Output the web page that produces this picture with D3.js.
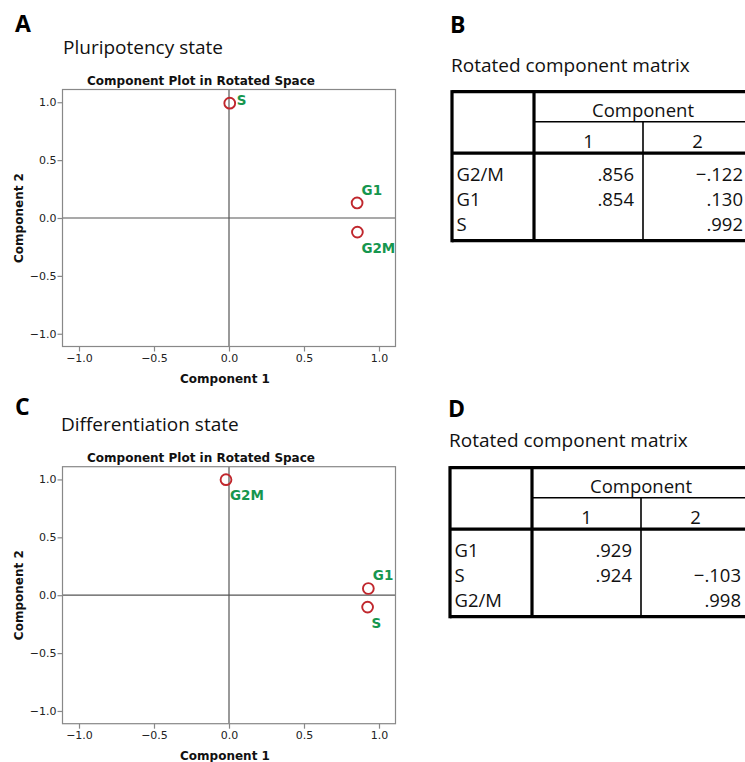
<!DOCTYPE html>
<html><head>
<meta charset="UTF-8">
<title>Rotated component plots</title>
<script src="https://cdnjs.cloudflare.com/ajax/libs/d3/7.8.4/d3.min.js"></script>
<style>
    body { margin: 0; padding: 0; background: #fff; }
    svg { display: block; }
    .panel-letter { font-family: "Open Sans", sans-serif; font-weight: bold; font-size: 23px; }
    .subtitle { font-family: "Open Sans", sans-serif; font-size: 19px; fill: #111; }
    .plot-title, .axis-title { font-family: "DejaVu Sans", sans-serif; font-weight: bold; font-size: 12px; fill: #111; }
    .tick text { font-family: "DejaVu Sans", sans-serif; font-size: 11px; fill: #222; }
    .pt-label { font-family: "DejaVu Sans", sans-serif; font-weight: bold; font-size: 13.5px; fill: #16964e; }
    .tbl { font-family: "Open Sans", sans-serif; font-size: 18.5px; fill: #111; }
</style>
</head>
<body>
<svg id="fig" width="745" height="762"></svg>
<script>
    // Panel A / B: pluripotency state
    var pluriGenes = ['G2M', 'G1', 'S'];
    var pluriComp1 = [0.856, 0.854, 0.005];
    var pluriComp2 = [-0.122, 0.130, 0.992];
    var pluriPlace = ['below', 'above', 'right'];

    // Panel C / D: differentiation state
    var diffGenes = ['G1', 'S', 'G2M'];
    var diffComp1 = [0.929, 0.924, -0.020];
    var diffComp2 = [0.058, -0.103, 0.998];
    var diffPlace = ['above', 'below', 'below'];

    // rotated component matrix tables (null = suppressed)
    var pluriRows = ['G2/M', 'G1', 'S'];
    var pluriTab1 = [0.856, 0.854, null];
    var pluriTab2 = [-0.122, 0.130, 0.992];
    var diffRows = ['G1', 'S', 'G2/M'];
    var diffTab1 = [0.929, 0.924, null];
    var diffTab2 = [null, -0.103, 0.998];

    var axisTicks = [-1.0, -0.5, 0.0, 0.5, 1.0];
    var axisDomain = [-1.11, 1.11];

    var svg = d3.select('#fig');

    function letter(x, y, t) {
        svg.append('text').attr('class', 'panel-letter').attr('x', x).attr('y', y).text(t);
    }

    function scatter(top, genes, c1, c2, place) {
        var left = 62.5, right = 395.5, bottom = top + 257;
        var x = d3.scaleLinear().domain(axisDomain).range([left, right]);
        var y = d3.scaleLinear().domain(axisDomain).range([bottom, top]);
        var g = svg.append('g');

        g.append('text').attr('class', 'plot-title')
            .attr('x', 201).attr('y', top - 5).attr('text-anchor', 'middle')
            .text('Component Plot in Rotated Space');

        // zero lines
        g.append('line').attr('x1', left).attr('x2', right)
            .attr('y1', y(0)).attr('y2', y(0)).attr('stroke', '#555').attr('stroke-width', 1.2);
        g.append('line').attr('x1', x(0)).attr('x2', x(0))
            .attr('y1', top).attr('y2', bottom).attr('stroke', '#555').attr('stroke-width', 1.2);

        g.append('rect').attr('x', left).attr('y', top)
            .attr('width', right - left).attr('height', bottom - top)
            .attr('fill', 'none').attr('stroke', '#888').attr('stroke-width', 1.2);

        var xa = g.append('g').attr('transform', 'translate(0,' + bottom + ')')
            .call(d3.axisBottom(x).tickValues(axisTicks).tickFormat(d3.format('.1f')).tickSize(5).tickPadding(3));
        var ya = g.append('g').attr('transform', 'translate(' + left + ',0)')
            .call(d3.axisLeft(y).tickValues(axisTicks).tickFormat(d3.format('.1f')).tickSize(5).tickPadding(1));
        [xa, ya].forEach(function(a) {
            a.select('.domain').remove();
            a.selectAll('.tick line').attr('stroke', '#888').attr('stroke-width', 1.2);
        });

        g.append('text').attr('class', 'axis-title')
            .attr('x', (left + right) / 2 - 4).attr('y', bottom + 36.5)
            .attr('text-anchor', 'middle').text('Component 1');
        g.append('text').attr('class', 'axis-title')
            .attr('transform', 'translate(23,' + y(0) + ') rotate(-90)')
            .attr('text-anchor', 'middle').text('Component 2');

        var offs = { right: [7, 2], above: [4.5, -8], below: [4, 20.5] };
        genes.forEach(function(name, i) {
            var px = x(c1[i]), py = y(c2[i]);
            g.append('circle').attr('cx', px).attr('cy', py).attr('r', 5.4)
                .attr('fill', 'none').attr('stroke', '#c0272d').attr('stroke-width', 1.9);
            var o = offs[place[i]];
            g.append('text').attr('class', 'pt-label')
                .attr('x', px + o[0]).attr('y', py + o[1]).text(name);
        });
    }

    function fmt(v) {
        if (v === null) return '';
        var s = d3.format('.3f')(Math.abs(v)).replace(/^0/, '');
        return (v < 0 ? '\u2212' : '') + s;
    }

    function table(x0, y0, rows, t1, t2) {
        var xDiv = x0 + 82, xCol = x0 + 191, xR = x0 + 300;
        var yHead = y0 + 30, yThick = y0 + 61.5, yBot = y0 + 149;
        var g = svg.append('g');
        var thick = 3.2, thin = 1.6;
        function ln(a, b, c, d, w) {
            g.append('line').attr('x1', a).attr('y1', b).attr('x2', c).attr('y2', d)
                .attr('stroke', '#000').attr('stroke-width', w);
        }
        ln(x0, y0, xR, y0, thick);
        ln(x0, yBot, xR, yBot, thick);
        ln(x0, y0 - thick / 2, x0, yBot + thick / 2, thick);
        ln(xDiv, y0, xDiv, yBot, thick);
        ln(xDiv, yHead, xR, yHead, thin);
        ln(x0, yThick, xR, yThick, thick);
        ln(xCol, yHead, xCol, yBot, thin);

        g.append('text').attr('class', 'tbl').attr('x', (xDiv + xR) / 2).attr('y', y0 + 24.8)
            .attr('text-anchor', 'middle').text('Component');
        g.append('text').attr('class', 'tbl').attr('x', (xDiv + xCol) / 2).attr('y', y0 + 56.3)
            .attr('text-anchor', 'middle').text('1');
        g.append('text').attr('class', 'tbl').attr('x', (xCol + xR) / 2).attr('y', y0 + 56.3)
            .attr('text-anchor', 'middle').text('2');

        rows.forEach(function(r, i) {
            var by = yThick + 28 + i * 25;
            g.append('text').attr('class', 'tbl').attr('x', x0 + 4.5).attr('y', by).text(r);
            g.append('text').attr('class', 'tbl').attr('x', xCol - 9).attr('y', by)
                .attr('text-anchor', 'end').text(fmt(t1[i]));
            g.append('text').attr('class', 'tbl').attr('x', xR - 9).attr('y', by)
                .attr('text-anchor', 'end').text(fmt(t2[i]));
        });
    }

    // A
    letter(15, 32, 'A');
    svg.append('text').attr('class', 'subtitle').attr('x', 63).attr('y', 54).text('Pluripotency state');
    scatter(89.5, pluriGenes, pluriComp1, pluriComp2, pluriPlace);

    // B
    letter(450, 33, 'B');
    svg.append('text').attr('class', 'subtitle').attr('x', 451).attr('y', 72).text('Rotated component matrix');
    table(452, 91.7, pluriRows, pluriTab1, pluriTab2);

    // C
    letter(15, 415, 'C');
    svg.append('text').attr('class', 'subtitle').attr('x', 61).attr('y', 431).text('Differentiation state');
    scatter(466.7, diffGenes, diffComp1, diffComp2, diffPlace);

    // D
    letter(448, 417, 'D');
    svg.append('text').attr('class', 'subtitle').attr('x', 449).attr('y', 447).text('Rotated component matrix');
    table(450, 467.7, diffRows, diffTab1, diffTab2);
</script>
</body>
</html>
